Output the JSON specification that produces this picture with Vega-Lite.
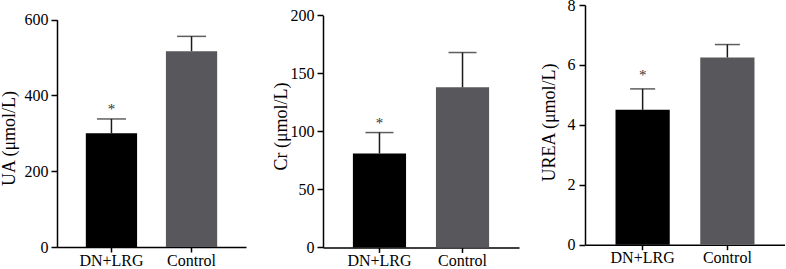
{
  "$schema": "https://vega.github.io/schema/vega-lite/v6.json",
  "padding": {"left": 0, "top": -3, "right": 0, "bottom": 0},
  "background": "white",
  "datasets": {
    "ua": [
      {"group": "DN+LRG", "mean": 300, "upper": 338, "star": "*"},
      {"group": "Control", "mean": 517, "upper": 556, "star": ""}
    ],
    "cr": [
      {"group": "DN+LRG", "mean": 81, "upper": 99, "star": "*"},
      {"group": "Control", "mean": 138, "upper": 168, "star": ""}
    ],
    "urea": [
      {"group": "DN+LRG", "mean": 4.5, "upper": 5.2, "star": "*"},
      {"group": "Control", "mean": 6.25, "upper": 6.68, "star": ""}
    ]
  },
  "spacing": 21,
  "hconcat": [
    {
      "spacing": 26,
      "hconcat": [
        {
          "width": 189,
          "height": 242,
          "data": {"name": "ua"},
          "encoding": {
            "x": {"field": "group", "type": "nominal", "sort": ["DN+LRG", "Control"], "scale": {"paddingInner": 0.36, "paddingOuter": 0.36}, "axis": {"title": null}}
          },
          "layer": [
            {
              "mark": {"type": "bar"},
              "encoding": {
                "y": {"field": "mean", "type": "quantitative", "scale": {"domain": [0, 600], "nice": false, "range": [242, 14.7]}, "axis": {"title": "UA (μmol/L)", "values": [0, 200, 400, 600], "titleX": -39, "titleY": 133}},
                "color": {"field": "group", "type": "nominal", "scale": {"domain": ["DN+LRG", "Control"], "range": ["#000000", "#58585c"]}, "legend": null}
              }
            },
            {
              "mark": {"type": "rule", "color": "#1a1a1a", "strokeWidth": 1.5},
              "encoding": {"y": {"field": "mean", "type": "quantitative"}, "y2": {"field": "upper"}}
            },
            {
              "mark": {"type": "tick", "color": "#1a1a1a", "size": 29, "thickness": 1.5, "orient": "horizontal"},
              "encoding": {"y": {"field": "upper", "type": "quantitative"}}
            },
            {
              "mark": {"type": "text", "font": "Liberation Serif", "fontSize": 15, "fill": "#333333", "baseline": "alphabetic", "dy": -5},
              "encoding": {"y": {"field": "upper", "type": "quantitative"}, "text": {"field": "star"}}
            }
          ]
        },
        {
          "width": 196,
          "height": 242.4,
          "data": {"name": "cr"},
          "encoding": {
            "x": {"field": "group", "type": "nominal", "sort": ["DN+LRG", "Control"], "scale": {"paddingInner": 0.36, "paddingOuter": 0.36}, "axis": {"title": null}}
          },
          "layer": [
            {
              "mark": {"type": "bar"},
              "encoding": {
                "y": {"field": "mean", "type": "quantitative", "scale": {"domain": [0, 200], "nice": false, "range": [242.4, 10.4]}, "axis": {"title": "Cr (μmol/L)", "values": [0, 50, 100, 150, 200], "titleX": -33, "titleY": 121}},
                "color": {"field": "group", "type": "nominal", "scale": {"domain": ["DN+LRG", "Control"], "range": ["#000000", "#58585c"]}, "legend": null}
              }
            },
            {
              "mark": {"type": "rule", "color": "#1a1a1a", "strokeWidth": 1.5},
              "encoding": {"y": {"field": "mean", "type": "quantitative"}, "y2": {"field": "upper"}}
            },
            {
              "mark": {"type": "tick", "color": "#1a1a1a", "size": 28, "thickness": 1.5, "orient": "horizontal"},
              "encoding": {"y": {"field": "upper", "type": "quantitative"}}
            },
            {
              "mark": {"type": "text", "font": "Liberation Serif", "fontSize": 15, "fill": "#333333", "baseline": "alphabetic", "dy": -5},
              "encoding": {"y": {"field": "upper", "type": "quantitative"}, "text": {"field": "star"}}
            }
          ]
        }
      ]
    },
    {
      "width": 200,
      "height": 239.7,
      "data": {"name": "urea"},
      "encoding": {
        "x": {"field": "group", "type": "nominal", "sort": ["DN+LRG", "Control"], "scale": {"paddingInner": 0.36, "paddingOuter": 0.36}, "axis": {"title": null}}
      },
      "layer": [
        {
          "mark": {"type": "bar"},
          "encoding": {
            "y": {"field": "mean", "type": "quantitative", "scale": {"domain": [0, 8], "nice": false}, "axis": {"title": "UREA (μmol/L)", "values": [0, 2, 4, 6, 8], "titleX": -27, "titleY": 117, "labelPadding": 4}},
            "color": {"field": "group", "type": "nominal", "scale": {"domain": ["DN+LRG", "Control"], "range": ["#000000", "#58585c"]}, "legend": null}
          }
        },
        {
          "mark": {"type": "rule", "color": "#1a1a1a", "strokeWidth": 1.5},
          "encoding": {"y": {"field": "mean", "type": "quantitative"}, "y2": {"field": "upper"}}
        },
        {
          "mark": {"type": "tick", "color": "#1a1a1a", "size": 25, "thickness": 1.5, "orient": "horizontal"},
          "encoding": {"y": {"field": "upper", "type": "quantitative"}}
        },
        {
          "mark": {"type": "text", "font": "Liberation Serif", "fontSize": 15, "fill": "#333333", "baseline": "alphabetic", "dy": -9},
          "encoding": {"y": {"field": "upper", "type": "quantitative"}, "text": {"field": "star"}}
        }
      ]
    }
  ],
  "resolve": {"scale": {"color": "independent"}},
  "config": {
    "view": {"stroke": null},
    "font": "Liberation Serif",
    "axis": {"domainColor": "#000", "domainWidth": 1.5, "tickColor": "#000", "tickWidth": 1.5, "labelFont": "Liberation Serif", "labelFontSize": 16, "labelColor": "#000", "titleFont": "Liberation Serif", "titleFontSize": 18, "titleFontWeight": "normal", "titleColor": "#000", "grid": false},
    "axisX": {"labelAngle": 0, "tickSize": 5, "labelPadding": 0, "labelFont": "Liberation Serif"},
    "axisY": {"tickSize": 6, "labelPadding": 3, "labelFont": "Liberation Serif", "titleFont": "Liberation Serif"}
  }
}
